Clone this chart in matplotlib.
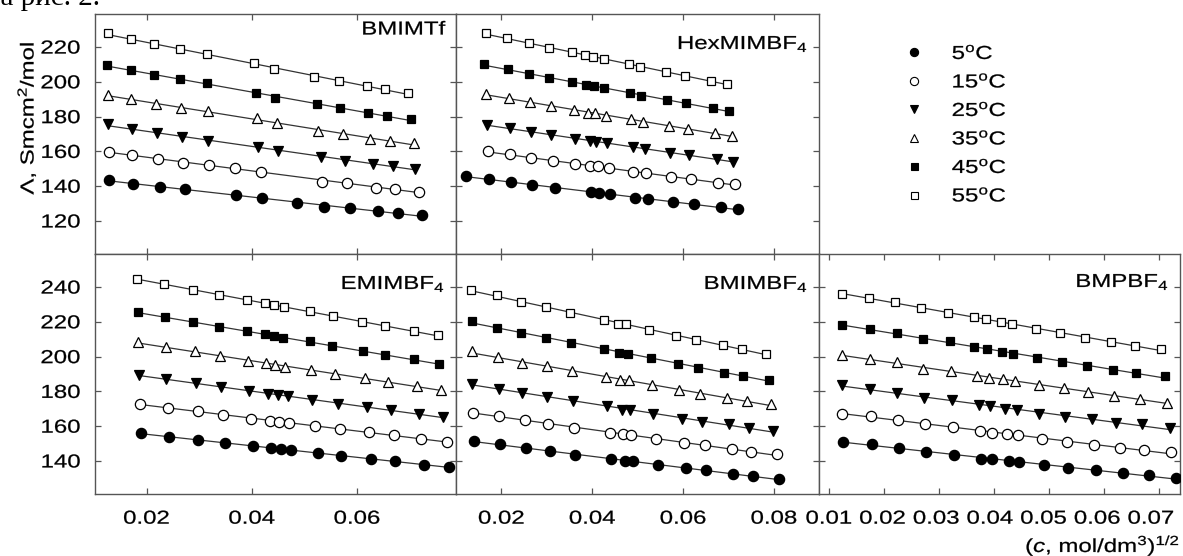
import numpy as np
import matplotlib
matplotlib.use('Agg')
import matplotlib.pyplot as plt
from matplotlib.ticker import MultipleLocator, FormatStrFormatter
from matplotlib.lines import Line2D
from matplotlib import patheffects
from matplotlib.transforms import Affine2D, ScaledTranslation

plt.rcParams['font.family'] = ['Liberation Sans', 'DejaVu Sans']
plt.rcParams['mathtext.fontset'] = 'custom'
plt.rcParams['mathtext.rm'] = 'Liberation Sans'
plt.rcParams['mathtext.it'] = 'Liberation Sans:italic'
plt.rcParams['mathtext.bf'] = 'Liberation Sans:bold'

temps = [5, 15, 25, 35, 45, 55]

# BMIMTf
bmimtf_x5 = [0.0129, 0.0175, 0.0225, 0.0273, 0.0370, 0.0420, 0.0485, 0.0537, 0.0586, 0.0640, 0.0677, 0.0724]
bmimtf_y5 = [143.6, 141.3, 139.7, 138.2, 135.0, 133.0, 130.2, 128.2, 127.3, 125.7, 124.4, 123.4]
bmimtf_x15 = [0.0129, 0.0173, 0.0222, 0.0270, 0.0319, 0.0368, 0.0417, 0.0534, 0.0581, 0.0636, 0.0673, 0.0718]
bmimtf_y15 = [159.8, 157.9, 155.5, 153.5, 152.2, 150.3, 148.3, 142.6, 141.7, 139.1, 138.4, 136.8]
bmimtf_x25 = [0.0126, 0.0173, 0.0219, 0.0268, 0.0317, 0.0412, 0.0450, 0.0531, 0.0577, 0.0630, 0.0668, 0.0711]
bmimtf_y25 = [175.6, 172.7, 170.4, 168.5, 166.2, 162.7, 160.4, 156.6, 154.7, 152.8, 151.6, 150.1]
bmimtf_x35 = [0.0126, 0.0171, 0.0217, 0.0266, 0.0316, 0.0409, 0.0447, 0.0526, 0.0573, 0.0625, 0.0663, 0.0708]
bmimtf_y35 = [192.4, 189.9, 187.1, 185.1, 183.2, 179.0, 176.1, 171.9, 169.8, 167.1, 166.0, 164.7]
bmimtf_x45 = [0.0124, 0.0170, 0.0214, 0.0263, 0.0314, 0.0407, 0.0444, 0.0523, 0.0567, 0.0621, 0.0657, 0.0703]
bmimtf_y45 = [209.7, 206.8, 203.9, 201.4, 199.1, 193.7, 190.9, 187.1, 184.8, 181.9, 180.3, 178.6]
bmimtf_x55 = [0.0127, 0.0170, 0.0214, 0.0263, 0.0314, 0.0404, 0.0442, 0.0518, 0.0565, 0.0618, 0.0654, 0.0696]
bmimtf_y55 = [227.9, 224.6, 221.5, 218.9, 216.0, 210.6, 207.2, 202.6, 200.5, 197.6, 195.7, 193.7]

# HexMIMBF4
hex_x5 = [0.0121, 0.0173, 0.0220, 0.0268, 0.0317, 0.0398, 0.0415, 0.0440, 0.0495, 0.0523, 0.0577, 0.0624, 0.0683, 0.0721]
hex_y5 = [145.9, 144.1, 142.2, 140.7, 139.1, 136.5, 136.3, 135.3, 133.4, 132.5, 130.7, 129.8, 127.9, 126.7]
hex_x15 = [0.0170, 0.0218, 0.0266, 0.0314, 0.0363, 0.0394, 0.0413, 0.0436, 0.0490, 0.0519, 0.0574, 0.0617, 0.0676, 0.0715]
hex_y15 = [160.2, 158.3, 156.0, 154.5, 152.6, 151.8, 151.6, 150.3, 148.0, 147.4, 145.5, 144.0, 142.0, 141.1]
hex_x25 = [0.0169, 0.0218, 0.0265, 0.0310, 0.0361, 0.0394, 0.0409, 0.0433, 0.0489, 0.0517, 0.0572, 0.0613, 0.0674, 0.0710]
hex_y25 = [175.2, 173.6, 171.3, 169.4, 167.0, 166.0, 165.6, 164.7, 162.7, 161.4, 159.3, 157.9, 155.5, 154.1]
hex_x35 = [0.0167, 0.0216, 0.0262, 0.0310, 0.0359, 0.0391, 0.0407, 0.0431, 0.0486, 0.0512, 0.0569, 0.0610, 0.0670, 0.0707]
hex_y35 = [192.8, 190.5, 188.6, 186.1, 183.8, 182.2, 181.9, 180.5, 178.4, 177.1, 174.8, 172.9, 170.4, 168.9]
hex_x45 = [0.0162, 0.0215, 0.0261, 0.0305, 0.0356, 0.0386, 0.0403, 0.0425, 0.0483, 0.0508, 0.0565, 0.0606, 0.0666, 0.0701]
hex_y45 = [210.1, 207.4, 204.5, 202.4, 199.7, 198.2, 197.6, 196.3, 193.4, 192.0, 189.5, 187.6, 185.1, 183.4]
hex_x55 = [0.0165, 0.0213, 0.0260, 0.0305, 0.0356, 0.0383, 0.0402, 0.0425, 0.0480, 0.0506, 0.0562, 0.0603, 0.0661, 0.0696]
hex_y55 = [227.9, 225.0, 222.1, 219.6, 217.0, 215.4, 214.4, 213.1, 210.1, 208.7, 205.8, 203.5, 200.6, 198.6]

# EMIMBF4
emim_x5 = [0.0189, 0.0242, 0.0298, 0.0349, 0.0402, 0.0437, 0.0455, 0.0474, 0.0525, 0.0570, 0.0627, 0.0673, 0.0727, 0.0775]
emim_y5 = [156.1, 153.8, 152.3, 150.3, 148.4, 147.5, 146.7, 146.2, 144.6, 142.9, 141.0, 139.8, 137.9, 136.6]
emim_x15 = [0.0187, 0.0240, 0.0297, 0.0345, 0.0399, 0.0434, 0.0451, 0.0471, 0.0520, 0.0567, 0.0623, 0.0670, 0.0722, 0.0770]
emim_y15 = [173.0, 170.7, 168.6, 166.3, 164.4, 163.0, 162.4, 161.9, 160.0, 158.6, 156.4, 154.8, 152.9, 151.0]
emim_x25 = [0.0186, 0.0236, 0.0293, 0.0341, 0.0395, 0.0431, 0.0449, 0.0468, 0.0515, 0.0564, 0.0619, 0.0664, 0.0717, 0.0763]
emim_y25 = [189.7, 187.0, 184.8, 182.5, 180.2, 178.7, 177.8, 177.2, 174.9, 173.0, 171.0, 169.1, 167.2, 165.3]
emim_x35 = [0.0184, 0.0237, 0.0292, 0.0339, 0.0392, 0.0427, 0.0444, 0.0464, 0.0513, 0.0559, 0.0616, 0.0659, 0.0713, 0.0760]
emim_y35 = [208.4, 205.5, 203.0, 200.2, 197.6, 196.1, 195.1, 194.2, 192.3, 190.0, 187.5, 185.2, 182.9, 181.0]
emim_x45 = [0.0183, 0.0235, 0.0289, 0.0337, 0.0390, 0.0425, 0.0442, 0.0459, 0.0510, 0.0553, 0.0611, 0.0654, 0.0708, 0.0755]
emim_y45 = [225.6, 222.8, 219.9, 217.0, 214.5, 212.8, 211.7, 210.9, 208.8, 205.9, 203.0, 200.7, 198.4, 196.0]
emim_x55 = [0.0181, 0.0233, 0.0289, 0.0338, 0.0390, 0.0425, 0.0442, 0.0461, 0.0510, 0.0554, 0.0610, 0.0654, 0.0708, 0.0754]
emim_y55 = [244.4, 242.0, 238.5, 235.6, 232.4, 231.0, 229.5, 228.5, 226.0, 223.3, 219.9, 217.4, 214.5, 212.2]

# BMIMBF4
bmim_x5 = [0.0140, 0.0196, 0.0254, 0.0306, 0.0363, 0.0441, 0.0472, 0.0490, 0.0545, 0.0606, 0.0650, 0.0710, 0.0754, 0.0811]
bmim_y5 = [151.3, 149.6, 147.5, 145.6, 143.7, 141.0, 139.8, 139.8, 137.9, 136.0, 134.7, 132.4, 131.2, 129.5]
bmim_x15 = [0.0137, 0.0194, 0.0251, 0.0303, 0.0360, 0.0439, 0.0468, 0.0486, 0.0541, 0.0602, 0.0648, 0.0707, 0.0749, 0.0806]
bmim_y15 = [167.8, 165.9, 163.4, 161.5, 159.2, 156.3, 155.3, 155.2, 152.5, 150.3, 149.0, 146.7, 145.2, 143.8]
bmim_x25 = [0.0136, 0.0194, 0.0245, 0.0301, 0.0358, 0.0433, 0.0466, 0.0484, 0.0534, 0.0598, 0.0642, 0.0701, 0.0745, 0.0798]
bmim_y25 = [184.5, 181.6, 179.3, 176.8, 174.3, 171.6, 169.5, 169.1, 167.2, 164.4, 162.4, 161.1, 159.2, 157.2]
bmim_x35 = [0.0136, 0.0193, 0.0246, 0.0300, 0.0356, 0.0431, 0.0462, 0.0481, 0.0532, 0.0591, 0.0637, 0.0696, 0.0740, 0.0793]
bmim_y35 = [203.0, 199.8, 196.3, 194.4, 191.7, 188.3, 186.8, 186.4, 183.5, 180.6, 178.7, 176.4, 174.5, 172.6]
bmim_x45 = [0.0136, 0.0191, 0.0243, 0.0299, 0.0353, 0.0425, 0.0459, 0.0478, 0.0529, 0.0588, 0.0632, 0.0690, 0.0732, 0.0789]
bmim_y45 = [220.3, 216.7, 213.6, 210.7, 208.0, 204.2, 202.1, 201.7, 199.4, 196.0, 193.7, 190.8, 188.9, 186.8]
bmim_x55 = [0.0134, 0.0190, 0.0243, 0.0297, 0.0350, 0.0425, 0.0457, 0.0475, 0.0525, 0.0585, 0.0628, 0.0687, 0.0729, 0.0782]
bmim_y55 = [238.5, 235.2, 231.4, 228.5, 225.3, 220.9, 219.0, 218.6, 215.5, 211.8, 209.8, 206.5, 204.6, 201.7]

# BMPBF4
bmp_x5 = [0.0126, 0.0178, 0.0227, 0.0276, 0.0328, 0.0376, 0.0397, 0.0427, 0.0446, 0.0490, 0.0535, 0.0585, 0.0634, 0.0681, 0.0730]
bmp_y5 = [150.9, 150.0, 147.5, 145.2, 143.7, 141.4, 141.0, 139.8, 139.4, 137.5, 136.0, 134.7, 133.1, 131.8, 130.2]
bmp_x15 = [0.0124, 0.0176, 0.0226, 0.0275, 0.0326, 0.0375, 0.0396, 0.0423, 0.0444, 0.0487, 0.0533, 0.0581, 0.0629, 0.0673, 0.0722]
bmp_y15 = [167.2, 165.9, 163.8, 161.1, 159.5, 157.1, 156.3, 155.7, 154.8, 152.9, 150.9, 149.0, 147.5, 146.2, 145.2]
bmp_x25 = [0.0124, 0.0175, 0.0224, 0.0273, 0.0323, 0.0373, 0.0393, 0.0420, 0.0441, 0.0482, 0.0529, 0.0578, 0.0622, 0.0669, 0.0719]
bmp_y25 = [183.5, 181.6, 179.3, 176.4, 174.9, 172.4, 171.4, 170.1, 169.5, 167.2, 165.3, 164.0, 161.8, 161.1, 159.0]
bmp_x35 = [0.0123, 0.0175, 0.0224, 0.0271, 0.0321, 0.0370, 0.0391, 0.0417, 0.0439, 0.0482, 0.0528, 0.0571, 0.0618, 0.0665, 0.0715]
bmp_y35 = [200.7, 198.8, 196.9, 193.1, 191.7, 188.7, 187.9, 187.0, 185.8, 183.5, 182.0, 179.7, 177.4, 175.9, 173.3]
bmp_x45 = [0.0123, 0.0175, 0.0223, 0.0271, 0.0320, 0.0364, 0.0387, 0.0414, 0.0435, 0.0478, 0.0524, 0.0569, 0.0617, 0.0658, 0.0711]
bmp_y45 = [218.0, 216.1, 213.6, 210.3, 208.8, 205.5, 204.2, 202.6, 201.3, 199.4, 196.9, 194.4, 192.5, 190.8, 188.7]
bmp_x55 = [0.0123, 0.0173, 0.0221, 0.0267, 0.0316, 0.0364, 0.0385, 0.0413, 0.0432, 0.0476, 0.0520, 0.0565, 0.0613, 0.0656, 0.0704]
bmp_y55 = [235.8, 233.9, 231.4, 228.2, 225.3, 222.8, 221.4, 219.9, 218.6, 216.1, 213.6, 210.9, 208.4, 206.1, 204.2]

# marker, face colour, size (pt) for each temperature
markers = ['o', 'o', 'v', '^', 's', 's']
faces = ['black', 'white', 'black', 'white', 'black', 'white']
msizes = [7.4, 7.4, 7.4, 7.4, 6.3, 6.3]

W, H = 1183, 556
fig = plt.figure(figsize=(W / 100, H / 100), dpi=100)


class Wide(patheffects.AbstractPathEffect):
    # the original uses a wide sans font: stretch glyphs sideways
    # and give them a hairline outline
    def __init__(self, sx=1.28, anchor='center', stroke=0.18):
        super().__init__()
        self.sx = sx
        self.anchor = anchor
        self.stroke = stroke

    def draw_path(self, renderer, gc, tpath, affine, rgbFace=None):
        ext = tpath.get_extents()
        x0 = {'left': ext.x0, 'center': (ext.x0 + ext.x1) / 2, 'right': ext.x1}[self.anchor]
        st = Affine2D().translate(-x0, 0).scale(self.sx, 1).translate(x0, 0)
        gc0 = renderer.new_gc()
        gc0.copy_properties(gc)
        gc0.set_linewidth(self.stroke)
        if rgbFace is not None:
            gc0.set_foreground(rgbFace)
        renderer.draw_path(gc0, tpath, st + affine, rgbFace)
        gc0.restore()


def px_axes(x0, y0, x1, y1):
    # axes from pixel box (top-left origin)
    return fig.add_axes([x0 / W, 1 - y1 / H, (x1 - x0) / W, (y1 - y0) / H])


spine_col = '#555555'

panels = [
    ('BMIMTf', (95, 14, 456, 254), (0.0102, 0.0788), (101, 239), 0.02,
     [bmimtf_x5, bmimtf_x15, bmimtf_x25, bmimtf_x35, bmimtf_x45, bmimtf_x55],
     [bmimtf_y5, bmimtf_y15, bmimtf_y25, bmimtf_y35, bmimtf_y45, bmimtf_y55], False, True, 30),
    ('HexMIMBF$_4$', (456, 14, 819, 254), (0.0100, 0.0899), (101, 239), 0.02,
     [hex_x5, hex_x15, hex_x25, hex_x35, hex_x45, hex_x55],
     [hex_y5, hex_y15, hex_y25, hex_y35, hex_y45, hex_y55], False, False, 44),
    ('EMIMBF$_4$', (95, 254, 456, 494), (0.0102, 0.0788), (121, 259), 0.02,
     [emim_x5, emim_x15, emim_x25, emim_x35, emim_x45, emim_x55],
     [emim_y5, emim_y15, emim_y25, emim_y35, emim_y45, emim_y55], True, True, 284),
    ('BMIMBF$_4$', (456, 254, 819, 494), (0.0100, 0.0899), (121, 259), 0.02,
     [bmim_x5, bmim_x15, bmim_x25, bmim_x35, bmim_x45, bmim_x55],
     [bmim_y5, bmim_y15, bmim_y25, bmim_y35, bmim_y45, bmim_y55], True, False, 284),
    ('BMPBF$_4$', (819, 254, 1180, 494), (0.0082, 0.0738), (121, 259), 0.01,
     [bmp_x5, bmp_x15, bmp_x25, bmp_x35, bmp_x45, bmp_x55],
     [bmp_y5, bmp_y15, bmp_y25, bmp_y35, bmp_y45, bmp_y55], True, False, 282),
]

axes = []
for label, box, xlim, ylim, xstep, xs, ys, showx, showy, label_y in panels:
    ax = px_axes(*box)
    for i in range(len(temps)):
        x = np.array(xs[i])
        y = np.array(ys[i])
        k, b = np.polyfit(x, y, 1)
        xx = np.array([x.min(), x.max()])
        ax.plot(xx, k * xx + b, color='#333333', lw=0.9, zorder=2)
        ax.plot(x, y, linestyle='none', marker=markers[i], ms=msizes[i],
                mfc=faces[i], mec='black', mew=0.9, zorder=3)
    ax.set_xlim(*xlim)
    ax.set_ylim(*ylim)
    ax.xaxis.set_major_locator(MultipleLocator(xstep))
    ax.yaxis.set_major_locator(MultipleLocator(20))
    ax.xaxis.set_major_formatter(FormatStrFormatter('%.2f'))
    ax.yaxis.set_major_formatter(FormatStrFormatter('%d'))
    ax.tick_params(direction='in', length=4.5, width=0.9, color=spine_col,
                   top=True, right=True, labelsize=13.5,
                   labelbottom=showx, labelleft=showy)
    ax.tick_params(axis='y', pad=10.5)
    ax.tick_params(axis='x', pad=12)
    for s in ax.spines.values():
        s.set_color(spine_col)
        s.set_linewidth(1.0)
    t = fig.text((box[2] - 11) / W, 1 - label_y / H, label, ha='right', va='center',
                 fontsize=13.5)
    t.set_path_effects([Wide(anchor='right')])
    axes.append(ax)

# legend in the empty top-right corner
handles = [Line2D([], [], linestyle='none', marker=markers[i], ms=msizes[i] * 0.8,
                  mfc=faces[i], mec='black', mew=0.8) for i in range(len(temps))]
labels = ['%d$^{\\rm o}$C' % t for t in temps]
leg = fig.legend(handles, labels, loc='upper left', bbox_to_anchor=(905 / W, 1 - 45 / H),
                 frameon=False, fontsize=13.5, handlelength=1.0, handletextpad=1.5,
                 labelspacing=0.56, borderpad=0, borderaxespad=0)
for t in leg.get_texts():
    t.set_path_effects([Wide(anchor='left')])

# axis titles
yl = fig.text(27 / W, 1 - 118 / H, '$\\mathit{\u039b}$, Smcm$^2$/mol', rotation=90,
              ha='center', va='center', fontsize=13.5)
yl.set_path_effects([Wide(anchor='center')])
xl = fig.text(1180 / W, 1 - 552 / H, '($\\mathit{c}$, mol/dm$^3$)$^{1/2}$', ha='right',
              va='baseline', fontsize=13.5)
xl.set_path_effects([Wide(anchor='right')])

# cut-off line of the page text above the figure
fig.text(-15 / W, 1 - 5 / H, 'на рис. 2.', family='Liberation Serif', fontsize=21,
         ha='left', va='baseline')

# tick labels exist after a draw; widen them, the last column's labels
# sit a little closer together than its ticks
fig.canvas.draw()
for n, ax in enumerate(axes):
    for lbl in ax.get_xticklabels():
        lbl.set_path_effects([Wide(anchor='center')])
        if n == 4:
            shift = -1.35 * (lbl.get_position()[0] - 0.01) / 0.01
            lbl.set_transform(lbl.get_transform() +
                              ScaledTranslation(shift / 100, 0, fig.dpi_scale_trans))
    for lbl in ax.get_yticklabels():
        lbl.set_path_effects([Wide(anchor='right')])

fig.savefig('out.png', dpi=100)
